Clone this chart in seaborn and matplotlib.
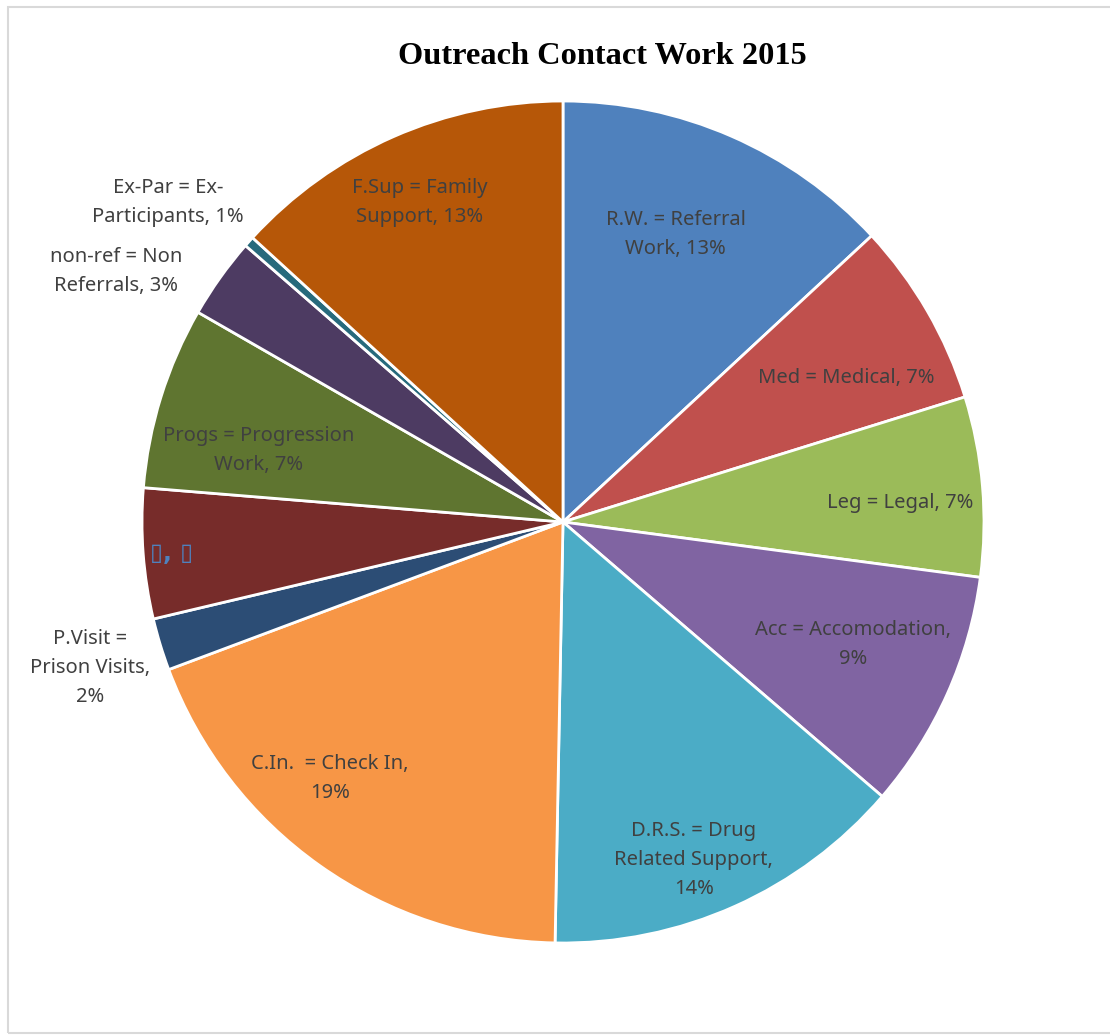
import matplotlib
matplotlib.use("Agg")
import matplotlib.pyplot as plt
import seaborn as sns
from matplotlib.patches import Rectangle

# share of each contact type, clockwise from 12 o'clock
labels = ["R.W. = Referral\nWork, 13%", "Med = Medical, 7%", "Leg = Legal, 7%",
          "Acc = Accomodation,\n9%", "D.R.S. = Drug\nRelated Support,\n14%",
          "C.In.  = Check In,\n19%", "P.Visit =\nPrison Visits,\n2%", "\u25af, \u25af",
          "Progs = Progression\nWork, 7%", "non-ref = Non\nReferrals, 3%",
          "Ex-Par = Ex-\nParticipants, 1%", "F.Sup = Family\nSupport, 13%"]
values = [13.1, 7.1, 6.9, 9.2, 14.0, 19.0, 2.0, 5.0, 7.0, 3.1, 0.4, 13.2]
colors = ["#4F81BD", "#C0504D", "#9BBB59", "#8064A2", "#4BACC6", "#F79646",
          "#2C4D75", "#772C2A", "#5F7530", "#4D3B62", "#276A7C", "#B65708"]

# label spots in pie units (radius = 1)
label_pos = [(0.268, 0.684), (0.672, 0.342), (0.800, 0.045), (0.689, -0.290),
             (0.311, -0.803), (-0.553, -0.610), (-1.124, -0.347), (-0.929, -0.074),
             (-0.724, 0.169), (-1.062, 0.596), (-0.938, 0.758), (-0.340, 0.758)]

sns.set_theme(style="white")
plt.rcParams['font.family'] = ['Noto Sans', 'DejaVu Sans']

fig = plt.figure(figsize=(11.1, 10.35), dpi=100)
ax = fig.add_axes([0.1279, 0.0889, 0.7586, 0.8135])

ax.pie(values, colors=colors, startangle=90, counterclock=False,
       wedgeprops=dict(edgecolor="white", linewidth=2))
ax.set_xlim(-1, 1)
ax.set_ylim(-1, 1)
ax.set_aspect("equal")
ax.axis("off")

for txt, (x, y) in zip(labels, label_pos):
    if txt.startswith("\u25af"):
        ax.text(x, y, txt, ha="center", va="center", fontsize=17,
                color="#4F81BD", fontweight="bold", family="DejaVu Sans")
    else:
        ax.text(x, y, txt, ha="center", va="center", fontsize=14.5,
                color="#404040", linespacing=1.6)

fig.text(0.543, 1 - 56 / 1035, "Outreach Contact Work 2015", ha="center", va="center",
         fontsize=23.3, fontweight="bold", family="Liberation Serif", color="black")

# chart area border
fig.patches.append(Rectangle((8 / 1110, 2 / 1035), 1.1, 1 - 9 / 1035,
                             transform=fig.transFigure, fill=False,
                             edgecolor="#D9D9D9", linewidth=1.5))

fig.savefig("out.png", dpi=100)
